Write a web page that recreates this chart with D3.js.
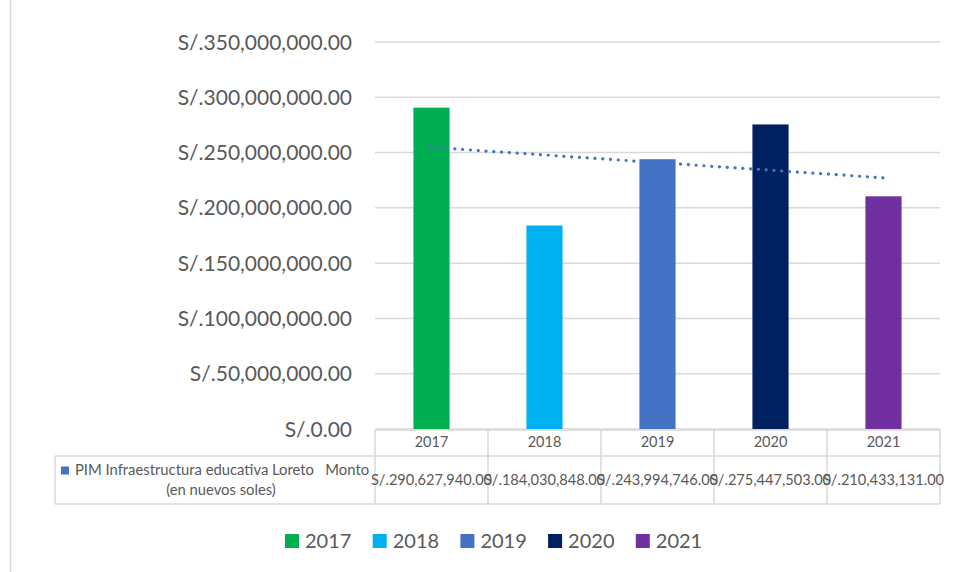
<!DOCTYPE html>
<html>
<head>
<meta charset="utf-8">
<script src="https://cdn.jsdelivr.net/npm/d3@7"></script>
<style>
  body { margin: 0; background: #fff; }
  svg { display: block; font-family: Lato, "Open Sans", sans-serif; }
</style>
</head>
<body>
<div id="chart"></div>
<script>
// data
const years = ['2017', '2018', '2019', '2020', '2021'];
const amounts = [290627940, 184030848, 243994746, 275447503, 210433131];
const colors = ['#00B050', '#00B0F0', '#4472C4', '#002060', '#7030A0'];
const yTicks = [0, 50e6, 100e6, 150e6, 200e6, 250e6, 300e6, 350e6];
const seriesName = ['PIM Infraestructura educativa Loreto   Monto', '(en nuevos soles)'];

const width = 956;
const height = 572;
const plot = { left: 375, right: 940, top: 42, bottom: 429 };
const grid = '#D9D9D9';
const textColor = '#595959';

const soles = (v) => 'S/.' + d3.format(',.2f')(v);

const svg = d3.select('#chart').append('svg')
  .attr('width', width)
  .attr('height', height);

// chart area border (left edge visible)
svg.append('line')
  .attr('x1', 10.5).attr('x2', 10.5)
  .attr('y1', 0).attr('y2', height)
  .attr('stroke', grid).attr('stroke-width', 1.5);

const x = d3.scaleBand()
  .domain(years)
  .range([plot.left, plot.right])
  .padding(0);

const y = d3.scaleLinear()
  .domain([0, 350e6])
  .range([plot.bottom, plot.top]);

// gridlines
svg.append('g')
  .selectAll('line')
  .data(yTicks)
  .join('line')
  .attr('x1', plot.left).attr('x2', plot.right)
  .attr('y1', d => y(d)).attr('y2', d => y(d))
  .attr('stroke', grid)
  .attr('stroke-width', 1.5);

// y tick labels
svg.append('g')
  .selectAll('text')
  .data(yTicks)
  .join('text')
  .attr('x', 352)
  .attr('y', d => y(d))
  .attr('dy', '0.36em')
  .attr('text-anchor', 'end')
  .attr('fill', textColor)
  .style('font-size', '21px')
  .text(d => soles(d));

// bars
const barW = x.bandwidth() * 0.32;
svg.append('g')
  .selectAll('rect')
  .data(years)
  .join('rect')
  .attr('x', d => x(d) + (x.bandwidth() - barW) / 2)
  .attr('y', (d, i) => y(amounts[i]))
  .attr('width', barW)
  .attr('height', (d, i) => y(0) - y(amounts[i]))
  .attr('fill', (d, i) => colors[i]);

// linear trendline (least squares over category index)
const n = amounts.length;
const xs = d3.range(1, n + 1);
const mx = d3.mean(xs);
const my = d3.mean(amounts);
const slope = d3.sum(xs, (v, i) => (v - mx) * (amounts[i] - my)) / d3.sum(xs, v => (v - mx) ** 2);
const trend = xs.map(v => my + slope * (v - mx));

svg.append('path')
  .datum(years)
  .attr('fill', 'none')
  .attr('stroke', '#4472C4')
  .attr('stroke-width', 3.2)
  .attr('stroke-linecap', 'round')
  .attr('stroke-dasharray', '0.1 7.7')
  .attr('d', d3.line()
    .x(d => x(d) + x.bandwidth() / 2)
    .y((d, i) => y(trend[i])));

// data table
const table = svg.append('g');
const rowTop = 430, rowMid = 456, rowBot = 504, labelLeft = 55;

table.append('g')
  .attr('stroke', grid)
  .attr('stroke-width', 1.5)
  .call(g => {
    g.append('line').attr('x1', plot.left).attr('x2', plot.right).attr('y1', rowTop).attr('y2', rowTop);
    g.append('line').attr('x1', labelLeft).attr('x2', plot.right).attr('y1', rowMid).attr('y2', rowMid);
    g.append('line').attr('x1', labelLeft).attr('x2', plot.right).attr('y1', rowBot).attr('y2', rowBot);
    g.append('line').attr('x1', labelLeft).attr('x2', labelLeft).attr('y1', rowMid).attr('y2', rowBot);
    g.selectAll('.col')
      .data(years.concat(['end']))
      .join('line')
      .attr('x1', d => d === 'end' ? plot.right : x(d))
      .attr('x2', d => d === 'end' ? plot.right : x(d))
      .attr('y1', rowTop).attr('y2', rowBot);
  });

table.append('g')
  .selectAll('text')
  .data(years)
  .join('text')
  .attr('x', d => x(d) + x.bandwidth() / 2)
  .attr('y', 447)
  .attr('text-anchor', 'middle')
  .attr('fill', textColor)
  .style('font-size', '14.5px')
  .text(d => d);

table.append('g')
  .selectAll('text')
  .data(years)
  .join('text')
  .attr('x', d => x(d) + x.bandwidth() / 2)
  .attr('y', 485)
  .attr('text-anchor', 'middle')
  .attr('fill', textColor)
  .style('font-size', '14.6px')
  .text((d, i) => soles(amounts[i]));

table.append('rect')
  .attr('x', 61).attr('y', 466.5)
  .attr('width', 8).attr('height', 8)
  .attr('fill', '#4472C4');

table.append('text')
  .attr('x', 222).attr('y', 475)
  .attr('text-anchor', 'middle')
  .attr('fill', textColor)
  .style('font-size', '14.8px')
  .style('white-space', 'pre')
  .attr('xml:space', 'preserve')
  .text(seriesName[0]);

table.append('text')
  .attr('x', 221).attr('y', 495)
  .attr('text-anchor', 'middle')
  .attr('fill', textColor)
  .style('font-size', '14.8px')
  .text(seriesName[1]);

// legend
const legend = svg.append('g')
  .selectAll('g')
  .data(years)
  .join('g')
  .attr('transform', (d, i) => `translate(${285 + i * 87.7},0)`);

legend.append('rect')
  .attr('y', 534)
  .attr('width', 14).attr('height', 14)
  .attr('fill', (d, i) => colors[i]);

legend.append('text')
  .attr('x', 20)
  .attr('y', 548)
  .attr('fill', textColor)
  .style('font-size', '20px')
  .text(d => d);
</script>
</body>
</html>
